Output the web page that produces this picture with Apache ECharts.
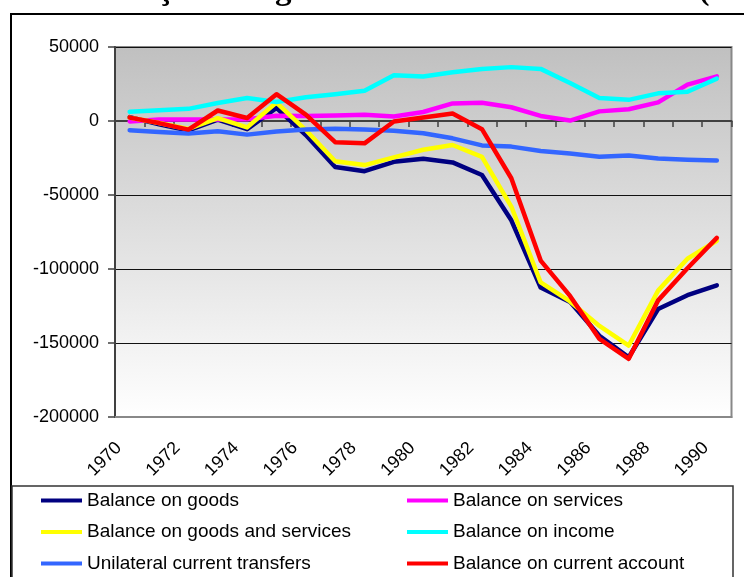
<!DOCTYPE html>
<html>
<head>
<meta charset="utf-8">
<script src="https://cdn.jsdelivr.net/npm/echarts@6/dist/echarts.min.js"></script>
<style>
  html, body { margin: 0; padding: 0; background: #fff; }
  #chart { width: 744px; height: 577px; }
</style>
</head>
<body>
<div id="chart"></div>
<script>
// US balance of payments, current account components (US$ millions)
const years = ['1970','1971','1972','1973','1974','1975','1976','1977','1978','1979','1980',
               '1981','1982','1983','1984','1985','1986','1987','1988','1989','1990'];

const balanceGoods = [2600, -2300, -6400, 900, -5500, 8900, -9500, -31100, -33900, -27600, -25500,
                      -28000, -36500, -67100, -112500, -122200, -145100, -159600, -127000, -117700, -111000];
const balanceServices = [-300, 1000, 1000, 1000, 1200, 3500, 3400, 3800, 4200, 3000, 6100,
                         11900, 12300, 9300, 3400, 300, 6500, 7900, 12600, 24600, 30200];
const balanceGoodsServices = [2300, -1300, -5400, 1900, -4300, 12400, -6100, -27200, -29800, -24600, -19400,
                              -16200, -24200, -57800, -109100, -121900, -138500, -151700, -114600, -93100, -80900];
const balanceIncome = [6200, 7300, 8200, 12200, 15500, 12800, 16100, 18100, 20400, 30900, 30100,
                       32900, 35200, 36400, 35200, 25700, 15500, 14300, 18700, 19800, 28600];
const unilateralTransfers = [-6200, -7400, -8500, -6900, -9200, -7100, -5700, -5200, -5800, -6600, -8300,
                             -11700, -16500, -17300, -20300, -22000, -24100, -23300, -25300, -26200, -26700];
const balanceCurrentAccount = [2300, -1400, -5800, 7100, 2000, 18100, 4300, -14300, -15100, -300, 2300,
                               5000, -5500, -38700, -94300, -118200, -147200, -160700, -121200, -99500, -79000];

const yTicks = { min: -200000, max: 50000, step: 50000 };

const seriesDefs = [
  { name: 'Balance on goods', data: balanceGoods, color: '#000080' },
  { name: 'Balance on services', data: balanceServices, color: '#ff00ff' },
  { name: 'Balance on goods and services', data: balanceGoodsServices, color: '#ffff00' },
  { name: 'Balance on income', data: balanceIncome, color: '#00ffff' },
  { name: 'Unilateral current transfers', data: unilateralTransfers, color: '#3366ff' },
  { name: 'Balance on current account', data: balanceCurrentAccount, color: '#ff0000' }
];

const FONT = '"Liberation Sans", Arial, sans-serif';
const chart = echarts.init(document.getElementById('chart'), null, { renderer: 'canvas' });

const legendCommon = {
  orient: 'vertical',
  top: 491,
  padding: 0,
  itemWidth: 41,
  itemHeight: 4,
  itemGap: 12.5,
  icon: 'rect',
  textStyle: { fontFamily: FONT, fontSize: 19, color: '#000' },
  selectedMode: false
};

chart.setOption({
  animation: false,
  backgroundColor: '#fff',
  graphic: [
    {
      type: 'text', x: -77, y: -10, silent: true,
      style: {
        text: 'Gráfico 1: Balanço de Pagamentos dos Estados Unidos (1970-1990)',
        font: 'bold 33px "Liberation Serif", "Times New Roman", serif',
        verticalAlign: 'middle',
        fill: '#000'
      }
    },
    {
      type: 'rect', silent: true,
      shape: { x: 11, y: 14, width: 800, height: 700 },
      style: { fill: null, stroke: '#000', lineWidth: 2 }
    },
    {
      type: 'rect', silent: true,
      shape: { x: 12, y: 486, width: 721, height: 200 },
      style: { fill: null, stroke: '#333', lineWidth: 1.5 }
    }
  ],
  grid: {
    left: 115, right: 12.5, top: 47, bottom: 160,
    show: true,
    borderColor: '#888', borderWidth: 2,
    backgroundColor: new echarts.graphic.LinearGradient(0, 0, 0, 1, [
      { offset: 0, color: '#c0c0c0' },
      { offset: 1, color: '#ffffff' }
    ]),
    outerBoundsMode: 'none'
  },
  legend: [
    Object.assign({ left: 41, data: [seriesDefs[0].name, seriesDefs[2].name, seriesDefs[4].name] }, legendCommon),
    Object.assign({ left: 407, data: [seriesDefs[1].name, seriesDefs[3].name, seriesDefs[5].name] }, legendCommon)
  ],
  xAxis: [
    {
      type: 'category', data: years, position: 'bottom', boundaryGap: true,
      axisLine: { show: true, onZero: false, lineStyle: { color: '#888', width: 2 } },
      axisTick: { show: false },
      axisLabel: {
        interval: 1, rotate: 45, margin: 39,
        verticalAlign: 'bottom', lineHeight: 31,
        fontFamily: FONT, fontSize: 18, color: '#000'
      },
      splitLine: { show: false }
    },
    {
      type: 'category', data: years, position: 'top', boundaryGap: true,
      axisLine: { show: true, onZero: true, lineStyle: { color: '#404040', width: 2 } },
      axisTick: { show: true, inside: true, length: 6, interval: 0, lineStyle: { color: '#404040', width: 1.5 } },
      axisLabel: { show: false },
      splitLine: { show: false }
    }
  ],
  yAxis: {
    type: 'value', min: yTicks.min, max: yTicks.max, interval: yTicks.step,
    axisLine: { show: true, lineStyle: { color: '#404040', width: 2 } },
    axisTick: { show: true, length: 7, lineStyle: { color: '#404040', width: 1.5 } },
    axisLabel: {
      margin: 16, fontFamily: FONT, fontSize: 18, color: '#000',
      formatter: v => String(v)
    },
    splitLine: { show: true, lineStyle: { color: '#111', width: 1.2 } }
  },
  series: seriesDefs.map(s => ({
    name: s.name, type: 'line', data: s.data, xAxisIndex: 0,
    symbol: 'none', smooth: false,
    color: s.color,
    lineStyle: { color: s.color, width: 4.5, join: 'round', cap: 'round' }
  }))
});
</script>
</body>
</html>
